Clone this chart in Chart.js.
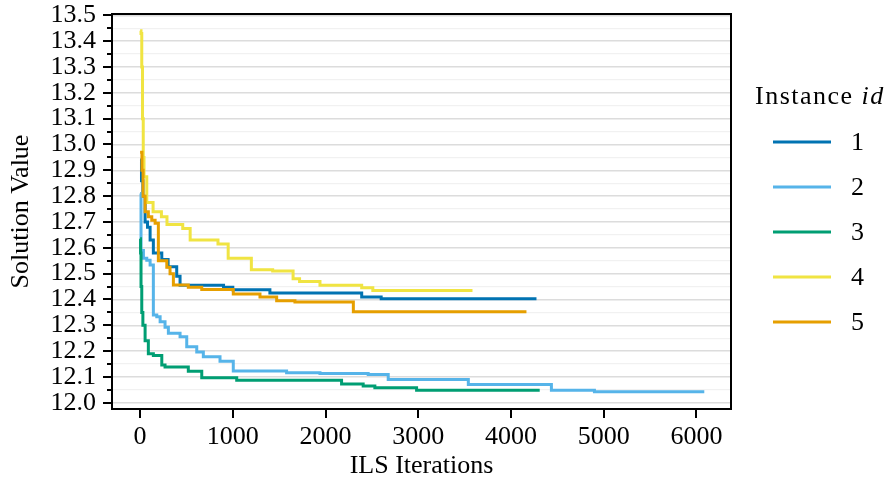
<!DOCTYPE html>
<html>
<head>
<meta charset="utf-8">
<title>ILS convergence</title>
<script src="https://cdn.jsdelivr.net/npm/chart.js@4.4.1/dist/chart.umd.min.js"></script>
<style>
  html, body { margin: 0; padding: 0; background: #fff; }
  #wrap { width: 887px; height: 486px; }
</style>
</head>
<body>
<div id="wrap"><canvas id="chart" width="887" height="486"></canvas></div>
<script>
/* global Chart */

// ---- data (iteration, best solution value), step-post ----
const instanceIds = ["1", "2", "3", "4", "5"];
const colors = ["#0173b2", "#56b4e9", "#009e73", "#f0e442", "#e69f00"];

const iters1 = [0, 15, 30, 54, 80, 108, 143, 234, 302, 395, 431, 900, 1000, 1400, 2390, 2600, 4275];
const vals1  = [12.94, 12.86, 12.80, 12.70, 12.68, 12.63, 12.58, 12.555, 12.527, 12.49, 12.455, 12.447, 12.438, 12.425, 12.41, 12.403, 12.403];

const iters2 = [0, 10, 36, 72, 108, 143, 180, 216, 269, 305, 431, 503, 611, 682, 862, 1005, 1580, 1940, 2460, 2676, 3540, 4436, 4900, 6085];
const vals2  = [12.81, 12.59, 12.56, 12.552, 12.533, 12.34, 12.333, 12.314, 12.292, 12.269, 12.256, 12.217, 12.197, 12.178, 12.161, 12.123, 12.116, 12.113, 12.11, 12.09, 12.071, 12.049, 12.043, 12.043];

const iters3 = [0, 5, 10, 18, 30, 54, 89, 143, 234, 269, 520, 665, 1042, 2173, 2406, 2532, 2982, 4310];
const vals3  = [12.635, 12.58, 12.45, 12.35, 12.30, 12.24, 12.19, 12.183, 12.146, 12.139, 12.122, 12.097, 12.087, 12.073, 12.065, 12.058, 12.049, 12.049];

const iters4 = [0, 10, 18, 26, 34, 42, 72, 140, 230, 290, 460, 540, 840, 950, 1200, 1430, 1650, 1720, 1940, 2390, 2510, 3585];
const vals4  = [13.44, 13.43, 13.30, 13.10, 12.95, 12.875, 12.775, 12.74, 12.72, 12.69, 12.675, 12.63, 12.615, 12.56, 12.515, 12.51, 12.48, 12.47, 12.455, 12.445, 12.435, 12.435];

const iters5 = [0, 20, 32, 54, 89, 126, 162, 197, 288, 323, 359, 520, 665, 1005, 1293, 1473, 1670, 2300, 4167];
const vals5  = [12.97, 12.90, 12.80, 12.74, 12.72, 12.707, 12.695, 12.55, 12.525, 12.50, 12.456, 12.447, 12.439, 12.421, 12.41, 12.395, 12.39, 12.352, 12.352];

const xTicks = [0, 1000, 2000, 3000, 4000, 5000, 6000];
const yMajorTicks = [12.0, 12.1, 12.2, 12.3, 12.4, 12.5, 12.6, 12.7, 12.8, 12.9, 13.0, 13.1, 13.2, 13.3, 13.4, 13.5];

const FONT = "'Liberation Serif', 'Times New Roman', serif";
const FS = 26;

function isMajor(v) {
  return Math.abs(Math.round(v * 10) - v * 10) < 1e-6;
}

// major ticks plus a minor one half way between each pair
const yTicks = [];
yMajorTicks.forEach((v, i) => {
  yTicks.push(v);
  if (i < yMajorTicks.length - 1) yTicks.push(+(v + 0.05).toFixed(2));
});

const series = [[iters1, vals1], [iters2, vals2], [iters3, vals3], [iters4, vals4], [iters5, vals5]];

const datasets = series.map(([xs, ys], i) => ({
  label: instanceIds[i],
  data: xs.map((x, k) => ({ x, y: ys[k] })),
  borderColor: colors[i],
  backgroundColor: colors[i],
  borderWidth: 3,
  pointRadius: 0,
  stepped: "before",
  fill: false,
  order: series.length - i   // later instances drawn on top, like matplotlib
}));

// spines, tick marks and the legend drawn by hand
const frame = {
  id: "frame",
  afterDraw(chart) {
    const { ctx, chartArea: a, scales } = chart;
    ctx.save();
    ctx.strokeStyle = "#000";
    ctx.lineWidth = 2;
    ctx.beginPath();
    yTicks.forEach(v => {
      const y = Math.round(scales.y.getPixelForValue(v));
      const len = isMajor(v) ? 9 : 5;
      ctx.moveTo(a.left - len, y);
      ctx.lineTo(a.left, y);
    });
    xTicks.forEach(v => {
      const x = Math.round(scales.x.getPixelForValue(v));
      ctx.moveTo(x, a.bottom);
      ctx.lineTo(x, a.bottom + 9);
    });
    ctx.stroke();
    ctx.strokeRect(a.left, a.top, a.right - a.left, a.bottom - a.top);

    // legend
    ctx.fillStyle = "#000";
    ctx.textBaseline = "middle";
    ctx.textAlign = "left";
    ctx.letterSpacing = "1.5px";
    ctx.font = FS + "px " + FONT;
    const head = "Instance ";
    ctx.fillText(head, 755, 97);
    const w = ctx.measureText(head).width;
    ctx.font = "italic " + FS + "px " + FONT;
    ctx.fillText("id", 755 + w, 97);
    ctx.letterSpacing = "0px";

    ctx.font = FS + "px " + FONT;
    chart.data.datasets.forEach((ds, i) => {
      const y = 142 + 45 * i;
      ctx.strokeStyle = ds.borderColor;
      ctx.lineWidth = 3;
      ctx.beginPath();
      ctx.moveTo(773, y);
      ctx.lineTo(831, y);
      ctx.stroke();
      ctx.fillText(ds.label, 851, y + 1);
    });
    ctx.restore();
  }
};

new Chart(document.getElementById("chart"), {
  type: "line",
  data: { datasets },
  options: {
    responsive: false,
    animation: false,
    devicePixelRatio: 1,
    layout: { padding: { top: 14, right: 156, left: 0, bottom: 0 } },
    plugins: { legend: { display: false }, tooltip: { enabled: false } },
    scales: {
      x: {
        type: "linear",
        min: -303,
        max: 6373,
        grid: { display: false, drawTicks: false },
        border: { display: false },
        ticks: {
          color: "#000",
          font: { family: FONT, size: FS },
          padding: 13,
          autoSkip: false,
          maxRotation: 0,
          callback: v => String(v)
        },
        title: { display: true, text: "ILS Iterations", color: "#000", font: { family: FONT, size: FS }, padding: { top: 0, bottom: 4 } },
        afterBuildTicks: s => { s.ticks = xTicks.map(v => ({ value: v })); },
        afterFit: s => { s.height = 77; s.paddingLeft = 0; s.paddingRight = 0; }
      },
      y: {
        type: "linear",
        min: 11.976,
        max: 13.505,
        grid: {
          drawTicks: false,
          color: c => isMajor(c.tick.value) ? "#dcdcdc" : "#f1f1f1",
          lineWidth: c => isMajor(c.tick.value) ? 1.4 : 1.2
        },
        border: { display: false },
        ticks: {
          color: "#000",
          font: { family: FONT, size: FS },
          padding: 16,
          autoSkip: false,
          callback: v => isMajor(v) ? v.toFixed(1) : ""
        },
        title: { display: true, text: "Solution Value", color: "#000", font: { family: FONT, size: FS }, padding: { top: 6, bottom: 0 } },
        afterBuildTicks: s => { s.ticks = yTicks.map(v => ({ value: v })); },
        afterFit: s => { s.width = 112; s.paddingTop = 0; s.paddingBottom = 0; }
      }
    }
  },
  plugins: [frame]
});
</script>
</body>
</html>
